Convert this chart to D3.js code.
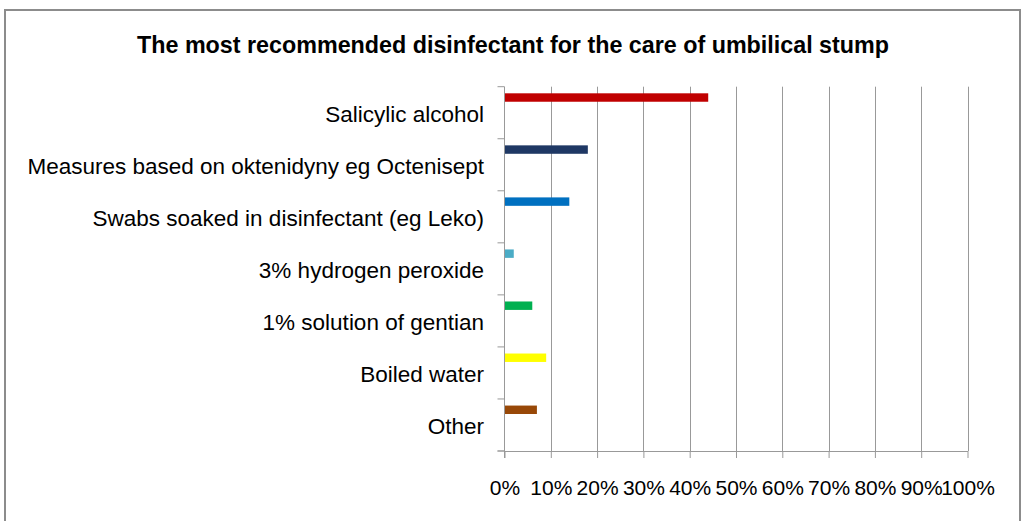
<!DOCTYPE html>
<html>
<head>
<meta charset="utf-8">
<script src="https://cdn.jsdelivr.net/npm/d3@7"></script>
<style>
  html, body { margin: 0; padding: 0; background: #fff; }
  svg { display: block; font-family: "Liberation Sans", Arial, sans-serif; }
</style>
</head>
<body>
<svg id="chart" width="1022" height="521"></svg>
<script>
const title = "The most recommended disinfectant  for the care of umbilical stump";
const categories = [
  "Salicylic alcohol",
  "Measures based on oktenidyny eg Octenisept",
  "Swabs soaked in disinfectant (eg Leko)",
  "3% hydrogen peroxide",
  "1% solution of gentian",
  "Boiled water",
  "Other"
];
const values = [44, 18, 14, 2, 6, 9, 7];
const colors = ["#C00000", "#1F3864", "#0070C0", "#4BACC6", "#00B050", "#FFFF00", "#984807"];
const tickValues = [0, 10, 20, 30, 40, 50, 60, 70, 80, 90, 100];
const tickLabels = ["0%", "10%", "20%", "30%", "40%", "50%", "60%", "70%", "80%", "90%", "100%"];

const svg = d3.select("#chart");
const plot = { left: 504.5, right: 967.5, top: 86.7, bottom: 451 };

// chart border
svg.append("rect")
  .attr("x", 5).attr("y", 10)
  .attr("width", 1015).attr("height", 530)
  .attr("fill", "#fff")
  .attr("stroke", "#8c8c8c").attr("stroke-width", 2);

// title
svg.append("text")
  .attr("x", 513).attr("y", 52.5)
  .attr("text-anchor", "middle")
  .attr("font-size", 24).attr("font-weight", "bold")
  .attr("textLength", 752).attr("lengthAdjust", "spacingAndGlyphs")
  .attr("fill", "#000")
  .text(title);

const x = d3.scaleLinear().domain([0, 100]).range([plot.left, plot.right]);
const y = d3.scaleBand().domain(categories).range([plot.top, plot.bottom]).paddingInner(0).paddingOuter(0);

// gridlines
svg.append("g")
  .selectAll("line")
  .data(tickValues.filter(d => d > 0))
  .join("line")
  .attr("x1", d => Math.round(x(d)) + 0.5).attr("x2", d => Math.round(x(d)) + 0.5)
  .attr("y1", plot.top).attr("y2", plot.bottom)
  .attr("stroke", "#999").attr("stroke-width", 1);

// bars
const bw = y.bandwidth();
svg.append("g")
  .selectAll("rect")
  .data(categories)
  .join("rect")
  .attr("x", x(0))
  .attr("y", d => y(d) + bw * 0.127)
  .attr("width", (d, i) => x(values[i]) - x(0))
  .attr("height", bw * 0.162)
  .attr("fill", (d, i) => colors[i]);

// x axis
const xAxis = d3.axisBottom(x)
  .tickValues(tickValues)
  .tickFormat((d, i) => tickLabels[i])
  .tickSizeInner(7).tickSizeOuter(0).tickPadding(22);
const gx = svg.append("g")
  .attr("transform", `translate(0,${plot.bottom})`)
  .call(xAxis);
gx.select(".domain").attr("stroke", "#999");
gx.selectAll(".tick line").attr("stroke", "#999");
gx.selectAll(".tick text")
  .attr("font-size", 21).attr("fill", "#000")
  .attr("font-family", "Liberation Sans, Arial, sans-serif");

// left axis line
svg.append("line")
  .attr("x1", plot.left).attr("x2", plot.left)
  .attr("y1", plot.top).attr("y2", plot.bottom + 7)
  .attr("stroke", "#999");
svg.append("line")
  .attr("x1", plot.left - 7).attr("x2", plot.left)
  .attr("y1", plot.bottom).attr("y2", plot.bottom)
  .attr("stroke", "#999");

// category boundary ticks
const boundaries = categories.map(c => y(c)).concat([plot.bottom]);
svg.append("g")
  .selectAll("line")
  .data(boundaries)
  .join("line")
  .attr("x1", plot.left - 7).attr("x2", plot.left)
  .attr("y1", d => d).attr("y2", d => d)
  .attr("stroke", "#999");

// category labels
svg.append("g")
  .selectAll("text")
  .data(categories)
  .join("text")
  .attr("x", 484)
  .attr("y", d => y(d) + bw / 2 + 9)
  .attr("text-anchor", "end")
  .attr("font-size", 22.5)
  .attr("fill", "#000")
  .text(d => d);
</script>
</body>
</html>
